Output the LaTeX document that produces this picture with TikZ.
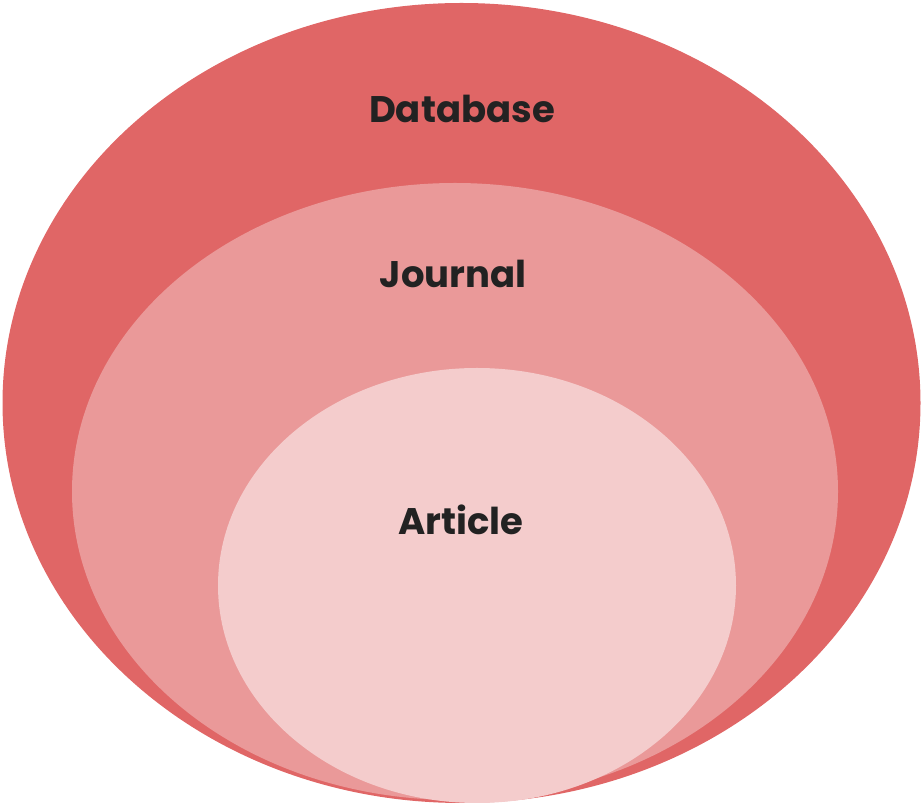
\documentclass[tikz,border=0pt]{standalone}
\usepackage{fontspec}
\setmainfont{Poppins}[BoldFont=* Bold]
\definecolor{outerc}{HTML}{E06666}
\definecolor{midc}{HTML}{EA9999}
\definecolor{innerc}{HTML}{F4CCCC}
\definecolor{txt}{HTML}{222222}
\begin{document}
\begin{tikzpicture}[x=1pt,y=1pt,
  lbl/.style={anchor=base,text=txt,font=\fontsize{37}{41}\selectfont\bfseries,inner sep=0pt}]
\useasboundingbox (0,0) rectangle (921,803);
\fill[outerc] (461.5,400) ellipse [x radius=459, y radius=400];
\fill[midc] (455,311.5) ellipse [x radius=383, y radius=308.5];
\fill[innerc] (477,217.5) ellipse [x radius=259, y radius=217.5];
\node[lbl] (db) at (462,680) {Database};
\node[lbl] (jr) at (453,515) {Journal};
\node[lbl] (ar) at (461,268) {Article};
\end{tikzpicture}
\end{document}
